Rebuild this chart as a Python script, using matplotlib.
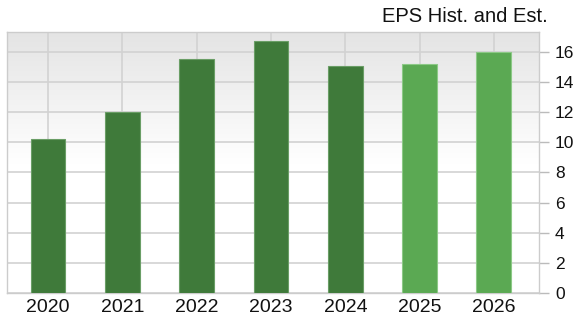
import numpy as np
import matplotlib
matplotlib.use("Agg")
import matplotlib.pyplot as plt
from matplotlib.colors import LinearSegmentedColormap

years = ["2020", "2021", "2022", "2023", "2024", "2025", "2026"]
eps = [10.22, 12.0, 15.5, 16.69, 15.07, 15.17, 16.0]
is_estimate = [False, False, False, False, False, True, True]
y_ticks = [0, 2, 4, 6, 8, 10, 12, 14, 16]
title = "EPS Hist. and Est."

plt.rcParams['font.family'] = ['Liberation Sans', 'DejaVu Sans']

fig = plt.figure(figsize=(5.81, 3.22), dpi=100)
ax = fig.add_axes([7.3 / 581, 1 - 293.3 / 322, (539 - 7.3) / 581, (293.3 - 32.3) / 322])

x = np.arange(len(years))
xlim = (-0.548, 6.606)
ylim = (0, 17.28)

# background gradient
cmap = LinearSegmentedColormap.from_list("bg", ["#ffffff", "#ffffff", "#e4e4e4"], N=256)
grad = np.linspace(0, 1, 256).reshape(-1, 1)
ax.imshow(grad, cmap=cmap, aspect="auto", extent=(xlim[0], xlim[1], ylim[0], ylim[1]),
          origin="lower", zorder=0, interpolation="bicubic")

colors = ["#5ba953" if e else "#3f7a3a" for e in is_estimate]
edges = ["#8cc986" if e else "#6a9e66" for e in is_estimate]
ax.bar(x, eps, width=0.47, color=colors, edgecolor=edges, linewidth=0.8, zorder=3)

ax.set_xlim(*xlim)
ax.set_ylim(*ylim)
ax.set_xticks(x)
ax.set_xticklabels(years, fontsize=14, color="#111111")
ax.set_yticks(y_ticks)
ax.set_yticklabels([str(v) for v in y_ticks], fontsize=12.5, color="#111111")
ax.yaxis.tick_right()
ax.tick_params(axis="y", length=7.5, width=1, color="#bbbbbb", pad=4)
ax.tick_params(axis="x", length=0, pad=4)

ax.grid(True, color="#d2d2d2", linewidth=1.2, zorder=1)
ax.set_axisbelow(True)
for s in ax.spines.values():
    s.set_color("#cccccc")
    s.set_linewidth(1.0)

fig.text(548 / 581, 1 - 16 / 322, title, ha="right", va="center", fontsize=14.5, color="#111111")

fig.savefig("out.png", dpi=100)
